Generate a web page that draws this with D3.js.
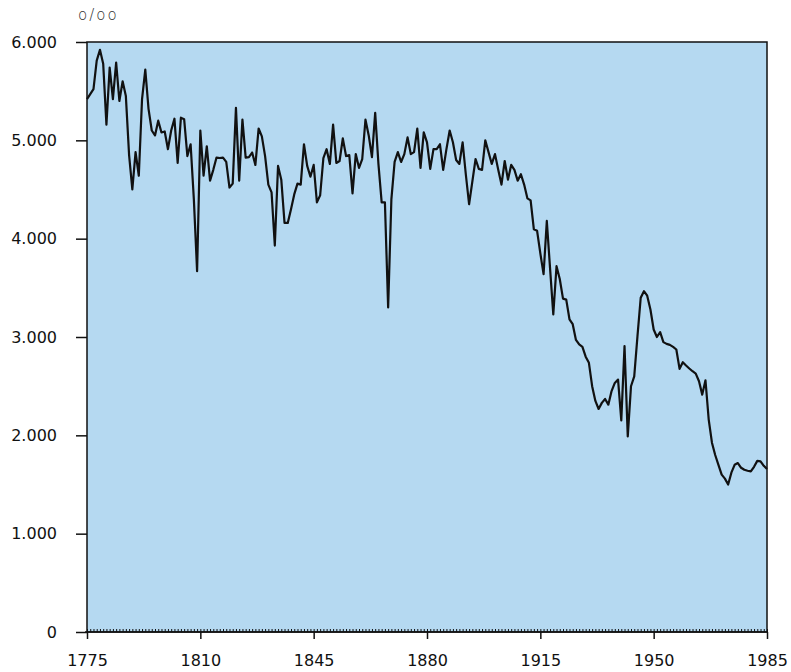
<!DOCTYPE html>
<html>
<head>
<meta charset="utf-8">
<script src="https://cdn.jsdelivr.net/npm/d3@7"></script>
<style>
  html, body { margin: 0; padding: 0; background: #ffffff; }
  svg { display: block; }
</style>
</head>
<body>
<svg id="chart" width="791" height="672"></svg>
<script>
const startYear = 1775;
const endYear = 1985;
const values = [
  5420,5470,5520,5810,5920,5780,5160,5740,5420,5790,
  5400,5600,5450,4850,4500,4880,4640,5420,5720,5320,
  5100,5050,5200,5080,5090,4910,5100,5220,4770,5230,
  5215,4840,4960,4400,3670,5100,4640,4940,4590,4700,
  4825,4820,4825,4780,4520,4560,5330,4590,5210,4825,
  4830,4876,4750,5120,5040,4840,4550,4470,3930,4740,
  4600,4160,4160,4300,4450,4560,4550,4960,4740,4630,
  4750,4370,4440,4820,4910,4760,5160,4770,4790,5020,
  4840,4850,4460,4860,4720,4810,5210,5050,4830,5280,
  4760,4370,4370,3300,4400,4780,4880,4780,4860,5030,
  4860,4880,5120,4720,5080,4980,4710,4910,4910,4960,
  4700,4910,5100,4980,4800,4760,4980,4650,4350,4580,
  4810,4710,4700,5000,4880,4760,4860,4700,4550,4790,
  4600,4750,4700,4590,4655,4550,4410,4390,4095,4080,
  3850,3640,4180,3700,3230,3720,3590,3390,3380,3180,
  3130,2970,2924,2900,2800,2737,2500,2350,2268,2330,
  2370,2312,2450,2533,2567,2152,2907,1989,2499,2600,
  3008,3399,3466,3420,3280,3076,3000,3049,2948,2930,
  2920,2900,2873,2676,2743,2710,2680,2652,2628,2550,
  2414,2560,2160,1925,1800,1700,1600,1560,1500,1620,
  1700,1718,1670,1650,1640,1633,1680,1740,1735,1690,
  1657
];
const xTickValues = [1775, 1810, 1845, 1880, 1915, 1950, 1985];
const yTickValues = [0, 1000, 2000, 3000, 4000, 5000, 6000];
const yTickLabels = ["0", "1.000", "2.000", "3.000", "4.000", "5.000", "6.000"];
const unitLabel = "o/oo";

(function () {
const data = values.map((v, i) => ({ year: startYear + i, value: v }));

const svg = d3.select("#chart");
const pL = 87, pR = 767, pT = 42, pB = 632;

const x = d3.scaleLinear().domain([startYear, endYear]).range([pL, pR]);
const y = d3.scaleLinear().domain([0, 6000]).range([pB, pT]);

svg.append("rect")
  .attr("x", pL).attr("y", pT)
  .attr("width", pR - pL).attr("height", pB - pT)
  .attr("fill", "#b5d9f1");

const line = d3.line().x(d => x(d.year)).y(d => y(d.value));
svg.append("path")
  .datum(data)
  .attr("d", line)
  .attr("fill", "none")
  .attr("stroke", "#111")
  .attr("stroke-width", 2.2)
  .attr("stroke-linejoin", "round");

svg.append("rect")
  .attr("x", pL).attr("y", pT)
  .attr("width", pR - pL).attr("height", pB - pT)
  .attr("fill", "none")
  .attr("stroke", "#111")
  .attr("stroke-width", 1.5);

const fontFam = "'DejaVu Sans', sans-serif";

const minorAxis = d3.axisTop(x)
  .tickValues(d3.range(startYear, endYear + 1))
  .tickSize(3)
  .tickFormat("");
const gMinor = svg.append("g").attr("transform", `translate(0,${pB})`).call(minorAxis);
gMinor.select(".domain").remove();
gMinor.selectAll("line").attr("stroke", "#111").attr("stroke-width", 1);

const xAxis = d3.axisBottom(x)
  .tickValues(xTickValues)
  .tickSize(7)
  .tickPadding(16)
  .tickFormat(d3.format("d"));
const gx = svg.append("g").attr("transform", `translate(0,${pB})`).call(xAxis);
gx.select(".domain").remove();
gx.selectAll("line").attr("stroke", "#111").attr("stroke-width", 1.5);
gx.selectAll("text").attr("font-family", fontFam).attr("font-size", 16).attr("fill", "#111");

svg.append("line")
  .attr("x1", pL - 2).attr("x2", pR)
  .attr("y1", pB).attr("y2", pB)
  .attr("stroke", "#111").attr("stroke-width", 1.5);

const yAxis = d3.axisLeft(y)
  .tickValues(yTickValues)
  .tickSize(11)
  .tickPadding(19)
  .tickFormat((d, i) => yTickLabels[i]);
const gy = svg.append("g").attr("transform", `translate(${pL},0)`).call(yAxis);
gy.select(".domain").remove();
gy.selectAll("line").attr("stroke", "#111").attr("stroke-width", 1.5);
gy.selectAll("text").attr("font-family", fontFam).attr("font-size", 16).attr("fill", "#111");

svg.append("text")
  .attr("x", 78).attr("y", 20)
  .attr("font-family", fontFam)
  .attr("font-size", 15)
  .attr("font-weight", 300)
  .attr("letter-spacing", 2)
  .attr("fill", "#333")
  .text(unitLabel);
})();
</script>
</body>
</html>
